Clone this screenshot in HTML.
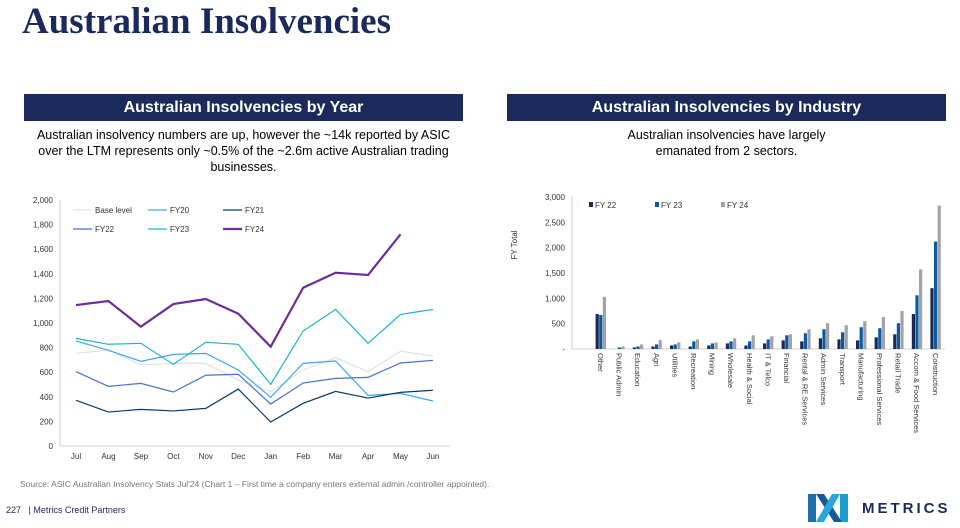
<!DOCTYPE html>
<html><head><meta charset="utf-8">
<style>
body{margin:0;width:960px;height:528px;background:#fff;font-family:"Liberation Sans",sans-serif;position:relative;overflow:hidden}
.abs{position:absolute}
h1{position:absolute;left:22px;top:0px;margin:0;font-family:"Liberation Serif",serif;font-size:37px;font-weight:bold;color:#1b2a5a}
.band{position:absolute;top:94px;height:27px;background:#1b2a5a;color:#fff;font-weight:bold;font-size:16px;text-align:center;line-height:27px}
.sub{position:absolute;font-size:12.5px;text-align:center;color:#000;line-height:16px}
</style></head><body>
<h1>Australian Insolvencies</h1>
<div class="band" style="left:24px;width:439px">Australian Insolvencies by Year</div>
<div class="band" style="left:507px;width:439px">Australian Insolvencies by Industry</div>
<div class="sub" style="left:24px;width:439px;top:127px">Australian insolvency numbers are up, however the ~14k reported by ASIC over the LTM represents only ~0.5% of the ~2.6m active Australian trading businesses.</div>
<div class="sub" style="left:507px;width:439px;top:127px">Australian insolvencies have largely<br>emanated from 2 sectors.</div>
<svg class="abs" style="left:0;top:0" width="960" height="528" id="charts"></svg>
<div class="abs" style="left:20px;top:479px;font-size:8.5px;color:#777;white-space:nowrap">Source: ASIC Australian Insolvency Stats Jul'24 (Chart 1 – First time a company enters external admin /controller appointed).</div>
<div class="abs" style="left:6px;top:505px;font-size:9px;color:#1b2a5a">227 &nbsp; | Metrics Credit Partners</div>
<svg class="abs" style="left:806px;top:490px" width="46" height="36">
<polygon points="2,4 10,4 10,32 2,32" fill="#1f6fa8"/><polygon points="34,4 42,4 42,32 34,32" fill="#1b9fcf"/>
<polygon points="10,4 18,4 36,32 28,32" fill="#155a94"/><polygon points="34,4 26,4 10,32 18,32" fill="#2aa6d8"/></svg>
<div class="abs" style="left:862px;top:500px;font-size:15px;font-weight:bold;letter-spacing:3px;color:#1b2a5a">METRICS</div>
<script>
const months=["Jul","Aug","Sep","Oct","Nov","Dec","Jan","Feb","Mar","Apr","May","Jun"];
const baseLevel=[753,780,659,672,672,537,442,618,718,604,770,732];
const fy20=[854,778,688,745,753,618,396,672,691,412,428,366];
const fy21=[371,276,298,285,306,463,195,347,444,390,436,453];
const fy22=[604,485,509,439,575,583,341,512,550,558,675,696];
const fy23=[875,827,835,664,843,827,501,935,1111,835,1070,1111];
const fy24=[1146,1179,970,1154,1195,1076,808,1287,1409,1390,1721];
const yTicksL=[0,200,400,600,800,1000,1200,1400,1600,1800,2000];
const industries=["Other","Public Admin","Education","Agri","Utilities","Recreation","Mining","Wholesale","Health & Social","IT & Telco","Financial","Rental & RE Services","Admin Services","Transport","Manufacturing","Professional Services","Retail Trade","Accom & Food Services","Construction"];
const bFy22=[690,0,30,50,70,50,70,110,70,110,170,150,210,190,170,230,290,690,1200];
const bFy23=[670,30,50,90,90,150,110,150,150,190,270,310,390,330,430,410,510,1060,2120];
const bFy24=[1030,50,90,180,130,190,130,210,270,250,290,390,510,470,550,630,750,1570,2830];
const yTicksR=[0,500,1000,1500,2000,2500,3000];
const NS="http://www.w3.org/2000/svg",svg=document.getElementById("charts");
function el(t,a,txt){const e=document.createElementNS(NS,t);for(const k in a)e.setAttribute(k,a[k]);if(txt!==undefined)e.textContent=txt;svg.appendChild(e);return e;}
const lx=i=>76+i*32.45, ly=v=>446-v/2000*246;
let e=el("line",{x1:60,y1:200,x2:60,y2:446,stroke:"#d0d0d0"});


e=el("line",{x1:60,y1:446,x2:450,y2:446,stroke:"#d0d0d0"});


yTicksL.forEach(v=>{const t=el("text",{x:53,y:ly(v)+3,"font-size":8,"text-anchor":"end",fill:"#333"},v.toLocaleString("en-US"));

});
months.forEach((m,i)=>{const t=el("text",{x:lx(i),y:459,"font-size":8,"text-anchor":"middle",fill:"#333"},m);

});
const series=[["Base level",baseLevel,"#e2e2e2",1.2],["FY20",fy20,"#3ea6f5",1.2],["FY21",fy21,"#0d3a63",1.2],["FY22",fy22,"#4a72c8",1.2],["FY23",fy23,"#1ab5c5",1.2],["FY24",fy24,"#6a2d9a",2.2]];
series.forEach((s,k)=>{const p=el("polyline",{points:s[1].map((v,i)=>lx(i)+","+ly(v)).join(" "),fill:"none",stroke:s[2],"stroke-width":s[3]});


const c=k%3,r=Math.floor(k/3),x0=73+c*75,y0=210+r*19;
const l=el("line",{x1:x0,y1:y0,x2:x0+19,y2:y0,stroke:s[2],"stroke-width":s[3]});


const t=el("text",{x:x0+22,y:y0+3,"font-size":8,fill:"#333"},s[0]);

});
const rx=i=>601+i*18.6, ry=v=>349-v/3000*152;
e=el("line",{x1:572,y1:196,x2:572,y2:349,stroke:"#d0d0d0"});


e=el("line",{x1:572,y1:349,x2:945,y2:349,stroke:"#d0d0d0"});


yTicksR.forEach(v=>{const t=el("text",{x:565,y:ry(v)+3,"font-size":8,"text-anchor":"end",fill:"#333"},v===0?"-":v.toLocaleString("en-US"));

});
e=el("text",{x:0,y:0,"font-size":8,"text-anchor":"middle",fill:"#333",transform:"translate(517,245) rotate(-90)"},"FY Total");


const bs=[["FY 22",bFy22,"#1a2a52"],["FY 23",bFy23,"#0a5aa0"],["FY 24",bFy24,"#a0a3aa"]];
bs.forEach((s,k)=>{s[1].forEach((v,i)=>{const b=el("rect",{x:rx(i)-5.4+k*3.6,y:ry(v),width:3.2,height:349-ry(v),fill:s[2]});

});
const x0=589+k*66;
const r=el("rect",{x:x0,y:202,width:4,height:5,fill:s[2]});


const t=el("text",{x:x0+6,y:208,"font-size":8,fill:"#333"},s[0]);

});
industries.forEach((n,i)=>{const t=el("text",{x:0,y:0,"font-size":7.5,fill:"#333",transform:`translate(${rx(i)-3},353) rotate(90)`},n);

});
</script>
</body></html>
